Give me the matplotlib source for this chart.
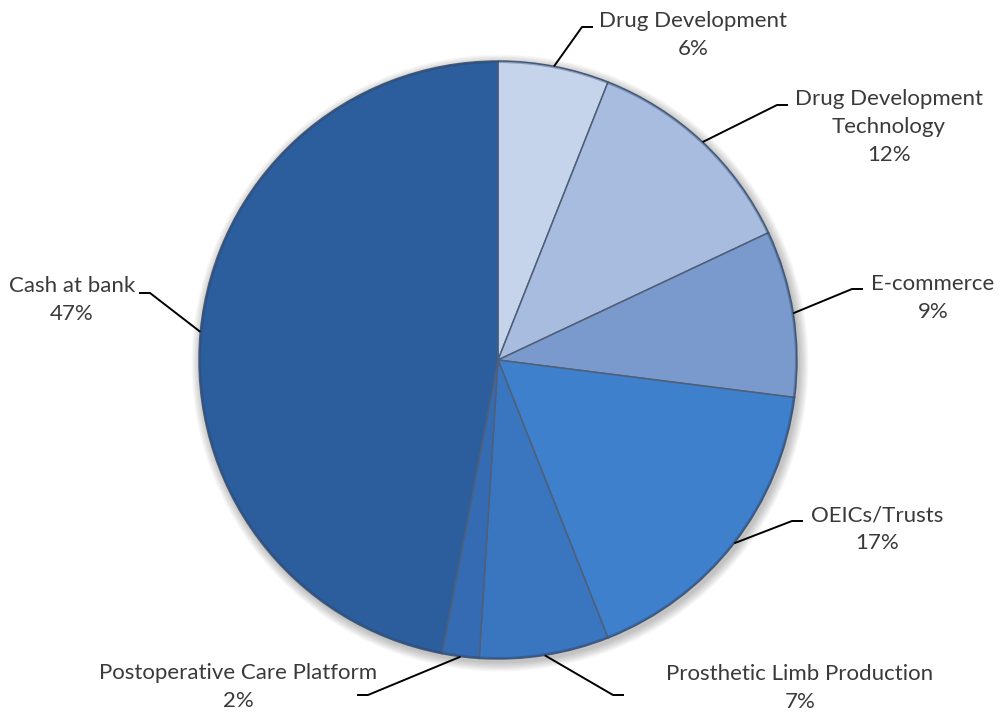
import matplotlib
matplotlib.use("Agg")
import numpy as np
import matplotlib.pyplot as plt
from matplotlib.patches import Circle

categories = ["Drug Development", "Drug Development\nTechnology", "E-commerce",
              "OEICs/Trusts", "Prosthetic Limb Production",
              "Postoperative Care Platform", "Cash at bank"]
shares = [6, 12, 9, 17, 7, 2, 47]
colors = ["#c6d4eb", "#a7bcdf", "#7a9acd", "#3f80cc", "#3a76c0", "#346bb2", "#2c5e9e"]

# label block centres and leader elbows, in pixels from top-left
label_xy = [(693, 35), (889, 127), (933, 298), (877, 529), (800, 688), (238, 687), (72, 300)]
elbow_xy = [(582, 27), (777, 105), (852, 289), (792, 521), (613, 695), (368, 695), (150, 293)]

W, H = 1001, 715
cx, cy, R = 498, 360, 299

plt.rcParams["font.family"] = ["Lato", "DejaVu Sans"]

fig = plt.figure(figsize=(W / 100, H / 100), dpi=100)
ax = fig.add_axes([0, 0, 1, 1])

# soft shadow under the pie
for k in range(8):
    ax.add_patch(Circle((cx + 2, cy + 3), R + 1 + k * 1.2, color="#000000",
                        alpha=0.03, lw=0, zorder=0))

# y axis is flipped, so counterclock in data = clockwise on screen
wedges, _ = ax.pie(shares, colors=colors, startangle=-90, counterclock=True,
                   center=(cx, cy), radius=R, frame=True,
                   wedgeprops=dict(edgecolor="#4f5f78", linewidth=1.1))
ax.set_xlim(0, W)
ax.set_ylim(H, 0)
ax.set_aspect("equal")
ax.axis("off")

# darker rim round the outside
ax.add_patch(Circle((cx, cy), R - 1, fill=False, ec="#1f3f6a", lw=1.5, alpha=0.35, zorder=3))

for w, name, v, (lx, ly), (ex, ey) in zip(wedges, categories, shares, label_xy, elbow_xy):
    mid = np.deg2rad((w.theta1 + w.theta2) / 2)
    sx, sy = cx + R * np.cos(mid), cy + R * np.sin(mid)
    hx = ex + 11 if lx > ex else ex - 11
    ax.plot([sx, ex, hx], [sy, ey, ey], color="black", lw=1.4,
            solid_capstyle="butt", zorder=4)
    ax.text(lx, ly, f"{name}\n{v}%", ha="center", va="center",
            multialignment="center", fontsize=16, color="#3a3a3a",
            linespacing=1.5, zorder=5)

fig.savefig("out.png", dpi=100, facecolor="white")
